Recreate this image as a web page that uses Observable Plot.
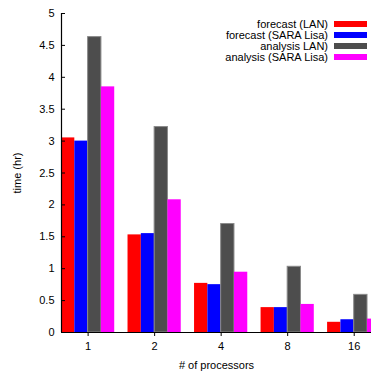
<!DOCTYPE html>
<html><head><meta charset="utf-8">
<script src="https://cdn.jsdelivr.net/npm/d3@7"></script>
<script src="https://cdn.jsdelivr.net/npm/@observablehq/plot@0.6"></script>
<style>
body{margin:0;background:#fff;font-family:"Liberation Sans",Arial,sans-serif}
#wrap{position:relative;width:371px;height:372px}
.legend{position:absolute;left:0;top:0;font-size:11px;color:#000}
.row{position:absolute;height:11px;line-height:11px}
.row span.t{position:absolute;right:0;white-space:nowrap}
.sw{position:absolute;width:33px;height:6px}
</style></head><body><div id="wrap"></div>
<script>
const groups = ["1", "2", "4", "8", "16"];
const seriesNames = ["forecast (LAN)", "forecast (SARA Lisa)", "analysis LAN)", "analysis (SARA Lisa)"];
const colors = ["#ff0000", "#0000ff", "#4d4d4d", "#ff00ff"];
const forecastLAN = [3.05, 1.53, 0.77, 0.39, 0.16];
const forecastSARA = [3.00, 1.55, 0.75, 0.39, 0.20];
const analysisLAN = [4.63, 3.22, 1.70, 1.03, 0.59];
const analysisSARA = [3.85, 2.08, 0.945, 0.44, 0.21];
const yTicks = [0, 0.5, 1, 1.5, 2, 2.5, 3, 3.5, 4, 4.5, 5];

const series = [forecastLAN, forecastSARA, analysisLAN, analysisSARA];
const rows = [];
series.forEach((vals, j) => vals.forEach((v, i) => rows.push({g: i, s: j, v})));
const barW = 0.2;

const chart = Plot.plot({
  width: 371, height: 372,
  marginLeft: 61, marginRight: 0, marginTop: 13, marginBottom: 40,
  style: {fontFamily: '"Liberation Sans", Arial, sans-serif', fontSize: "11px", color: "#000", background: "#fff"},
  x: {domain: [-0.4, 4.26]},
  y: {domain: [0, 5]},
  marks: [
    Plot.rectY(rows, {
      x1: d => d.g - 0.4 + d.s * barW,
      x2: d => d.g - 0.4 + (d.s + 1) * barW,
      y: "v",
      fill: d => colors[d.s],
      stroke: d => d.s === 2 ? "#8a8a8a" : "none",
      strokeWidth: 1,
      clip: true
    }),
    Plot.ruleX([-0.4], {stroke: "#000", strokeWidth: 1.2}),
    Plot.ruleY([0], {stroke: "#000", strokeWidth: 1.2}),
    Plot.axisY({ticks: yTicks, tickSize: -4, tickPadding: 11, tickFormat: d => String(d), label: "time (hr)", labelAnchor: "center", labelArrow: "none", labelOffset: 48}),
    Plot.axisX({ticks: [0, 1, 2, 3, 4], tickSize: 4, tickPadding: 6, tickFormat: i => groups[i], label: "# of processors", labelAnchor: "center", labelArrow: "none", labelOffset: 36})
  ]
});
const wrap = document.getElementById("wrap");
wrap.appendChild(chart);

const legend = document.createElement("div");
legend.className = "legend";
const rowCenters = [24, 35, 46, 57];
seriesNames.forEach((name, j) => {
  const r = document.createElement("div");
  r.className = "row";
  r.style.left = "0px"; r.style.width = "328px"; r.style.top = (rowCenters[j] - 5.5) + "px";
  r.innerHTML = `<span class="t">${name}</span>`;
  legend.appendChild(r);
  const sw = document.createElement("div");
  sw.className = "sw";
  sw.style.left = "334px"; sw.style.top = (rowCenters[j] - 3) + "px";
  sw.style.background = colors[j];
  legend.appendChild(sw);
});
wrap.appendChild(legend);
</script>
</body></html>
